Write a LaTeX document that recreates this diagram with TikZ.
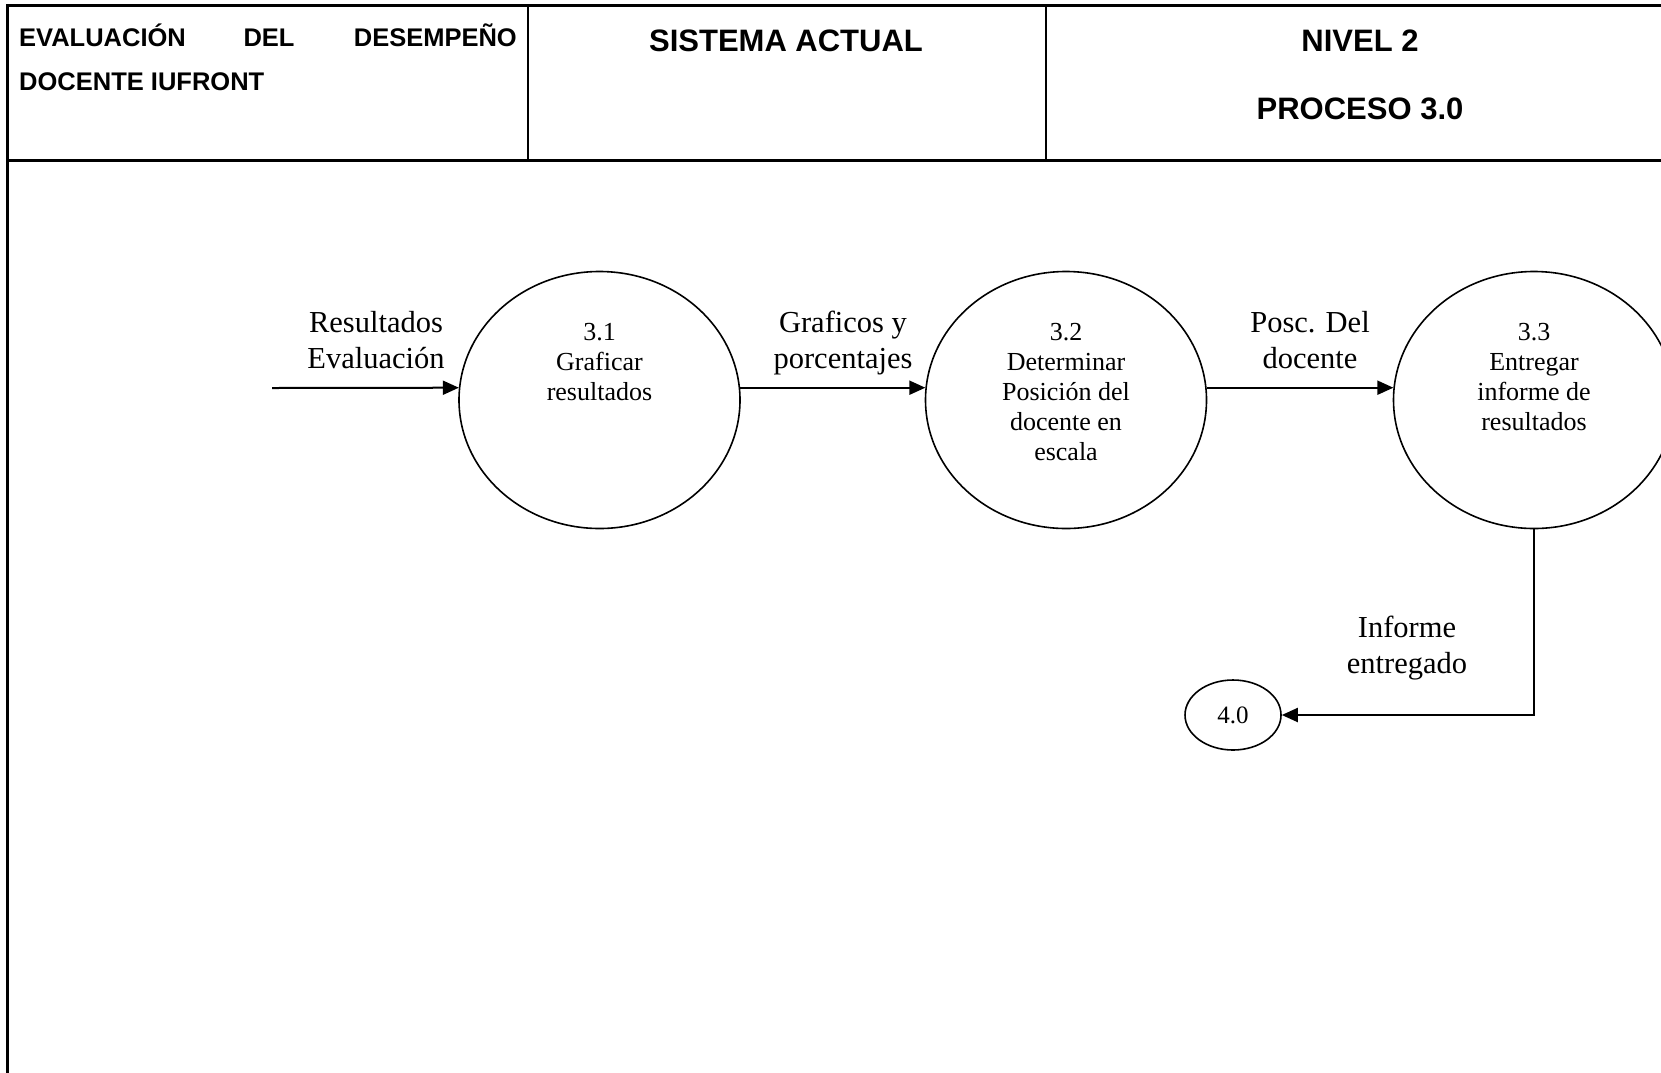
\documentclass[tikz,border=0pt]{standalone}
\usepackage{fontspec}
\setmainfont{Liberation Serif}
\newfontfamily\hdrfont{Liberation Sans}
\usetikzlibrary{shapes.geometric,arrows.meta}
\begin{document}
\begin{tikzpicture}[x=1pt,y=-1pt,
  frame/.style={line width=3pt},
  divider/.style={line width=2pt},
  hdr/.style={font=\hdrfont\bfseries\fontsize{31}{36}\selectfont, inner sep=0pt},
  hdrl/.style={font=\hdrfont\bfseries\fontsize{25.5}{32}\selectfont, inner sep=0pt},
  proc/.style={draw, ellipse, line width=1.6pt, minimum width=281pt, minimum height=257pt, inner sep=0pt},
  proctext/.style={align=center, font=\fontsize{26}{30}\selectfont, inner sep=0pt, anchor=base},
  flowlab/.style={align=center, font=\fontsize{30.5}{36}\selectfont, inner sep=0pt, anchor=base},
  arr/.style={line width=2pt, -{Triangle[length=16pt,width=14pt]}},
]
\useasboundingbox (0,0) rectangle (1661,1072);
% frame
\draw[frame] (7,1080) -- (7,5) -- (1670,5);
\draw[frame] (7,160) -- (1670,160);
\draw[divider] (527.5,5) -- (527.5,160);
\draw[divider] (1045.5,5) -- (1045.5,160);
% header texts
\node[hdrl, anchor=base west] (h1a) at (19,46) {EVALUACIÓN};
\node[hdrl, anchor=base] (h1b) at (269,46) {DEL};
\node[hdrl, anchor=base east] (h1c) at (517,46) {DESEMPEÑO};
\node[hdrl, anchor=base west] (h1d) at (19,90) {DOCENTE IUFRONT};
\node[hdr, anchor=base] (h2) at (786,51) {SISTEMA ACTUAL};
\node[hdr, anchor=base] (h3a) at (1360,51) {NIVEL 2};
\node[hdr, anchor=base] (h3b) at (1360,119) {PROCESO 3.0};
% processes (base anchor = baseline of last line)
\node[proc] (c31) at (599.5,400) {};
\node[proc] (c32) at (1066,400) {};
\node[proc] (c33) at (1534,400) {};
\node[proctext] (t31) at (599.5,400) {3.1\\Graficar\\resultados};
\node[proctext] (t32) at (1066,460) {3.2\\Determinar\\Posición del\\docente en\\escala};
\node[proctext] (t33) at (1534,430) {3.3\\Entregar\\informe de\\resultados};
\node[draw, ellipse, line width=1.6pt, minimum width=96pt, minimum height=70pt, inner sep=0pt, font=\fontsize{25}{30}\selectfont] (c40) at (1233,715) {4.0};
% flows
\coordinate (src) at (272,388);
\draw[arr] (src) -- (c31.175);
\draw[arr] (c31.5) -- (c32.175);
\draw[arr] (c32.5) -- (c33.175);
\draw[arr] (c33.south) |- (c40.east);
\node[flowlab] (l1) at (376,368) {Resultados\\Evaluación};
\node[flowlab] (l2) at (843,368) {Graficos y\\porcentajes};
\node[flowlab] (l3) at (1310,368) {Posc. Del\\docente};
\node[flowlab] (l4) at (1407,673) {Informe\\entregado};
\end{tikzpicture}
\end{document}
